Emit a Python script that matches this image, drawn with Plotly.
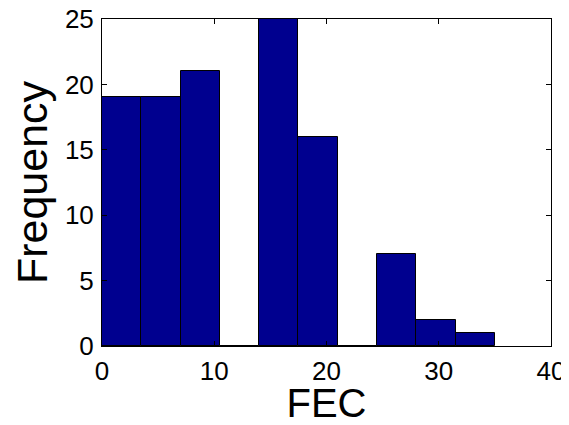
import plotly.graph_objects as go

bin_start = 0.0
bin_width = 3.5
counts = [19, 19, 21, 0, 25, 16, 0, 7, 2, 1]
x_ticks = [0, 10, 20, 30, 40]
y_ticks = [0, 5, 10, 15, 20, 25]
x_label = "FEC"
y_label = "Frequency"

centers = [bin_start + bin_width * (i + 0.5) for i in range(len(counts))]

fig = go.Figure(go.Bar(
    x=centers, y=counts, width=[bin_width] * len(counts),
    marker=dict(color="#00008F", line=dict(color="black", width=1)),
))

font_family = "Liberation Sans, Arial, sans-serif"
axis_common = dict(showline=True, linecolor="black", linewidth=1, mirror="ticks",
                   ticks="inside", ticklen=5, tickcolor="black", showgrid=False,
                   zeroline=False, automargin=False, ticklabeloverflow="allow",
                   tickfont=dict(size=26, color="black", family=font_family))

# page body has an 8px default margin, so the figure is sized/offset to compensate
fig.update_layout(
    width=561, height=417,
    margin=dict(l=94, r=18, t=11, b=79),
    paper_bgcolor="white", plot_bgcolor="white",
    showlegend=False, bargap=0,
    xaxis=dict(range=[0, 40], tickvals=x_ticks, ticklabelstandoff=2,
               title=dict(text=x_label, font=dict(size=40, color="black", family=font_family), standoff=5),
               **axis_common),
    yaxis=dict(range=[0, 25], tickvals=y_ticks, ticklabelstandoff=2,
               title=dict(text=y_label, font=dict(size=43, color="black", family=font_family), standoff=6),
               **axis_common),
)

fig.write_html("out.html")
